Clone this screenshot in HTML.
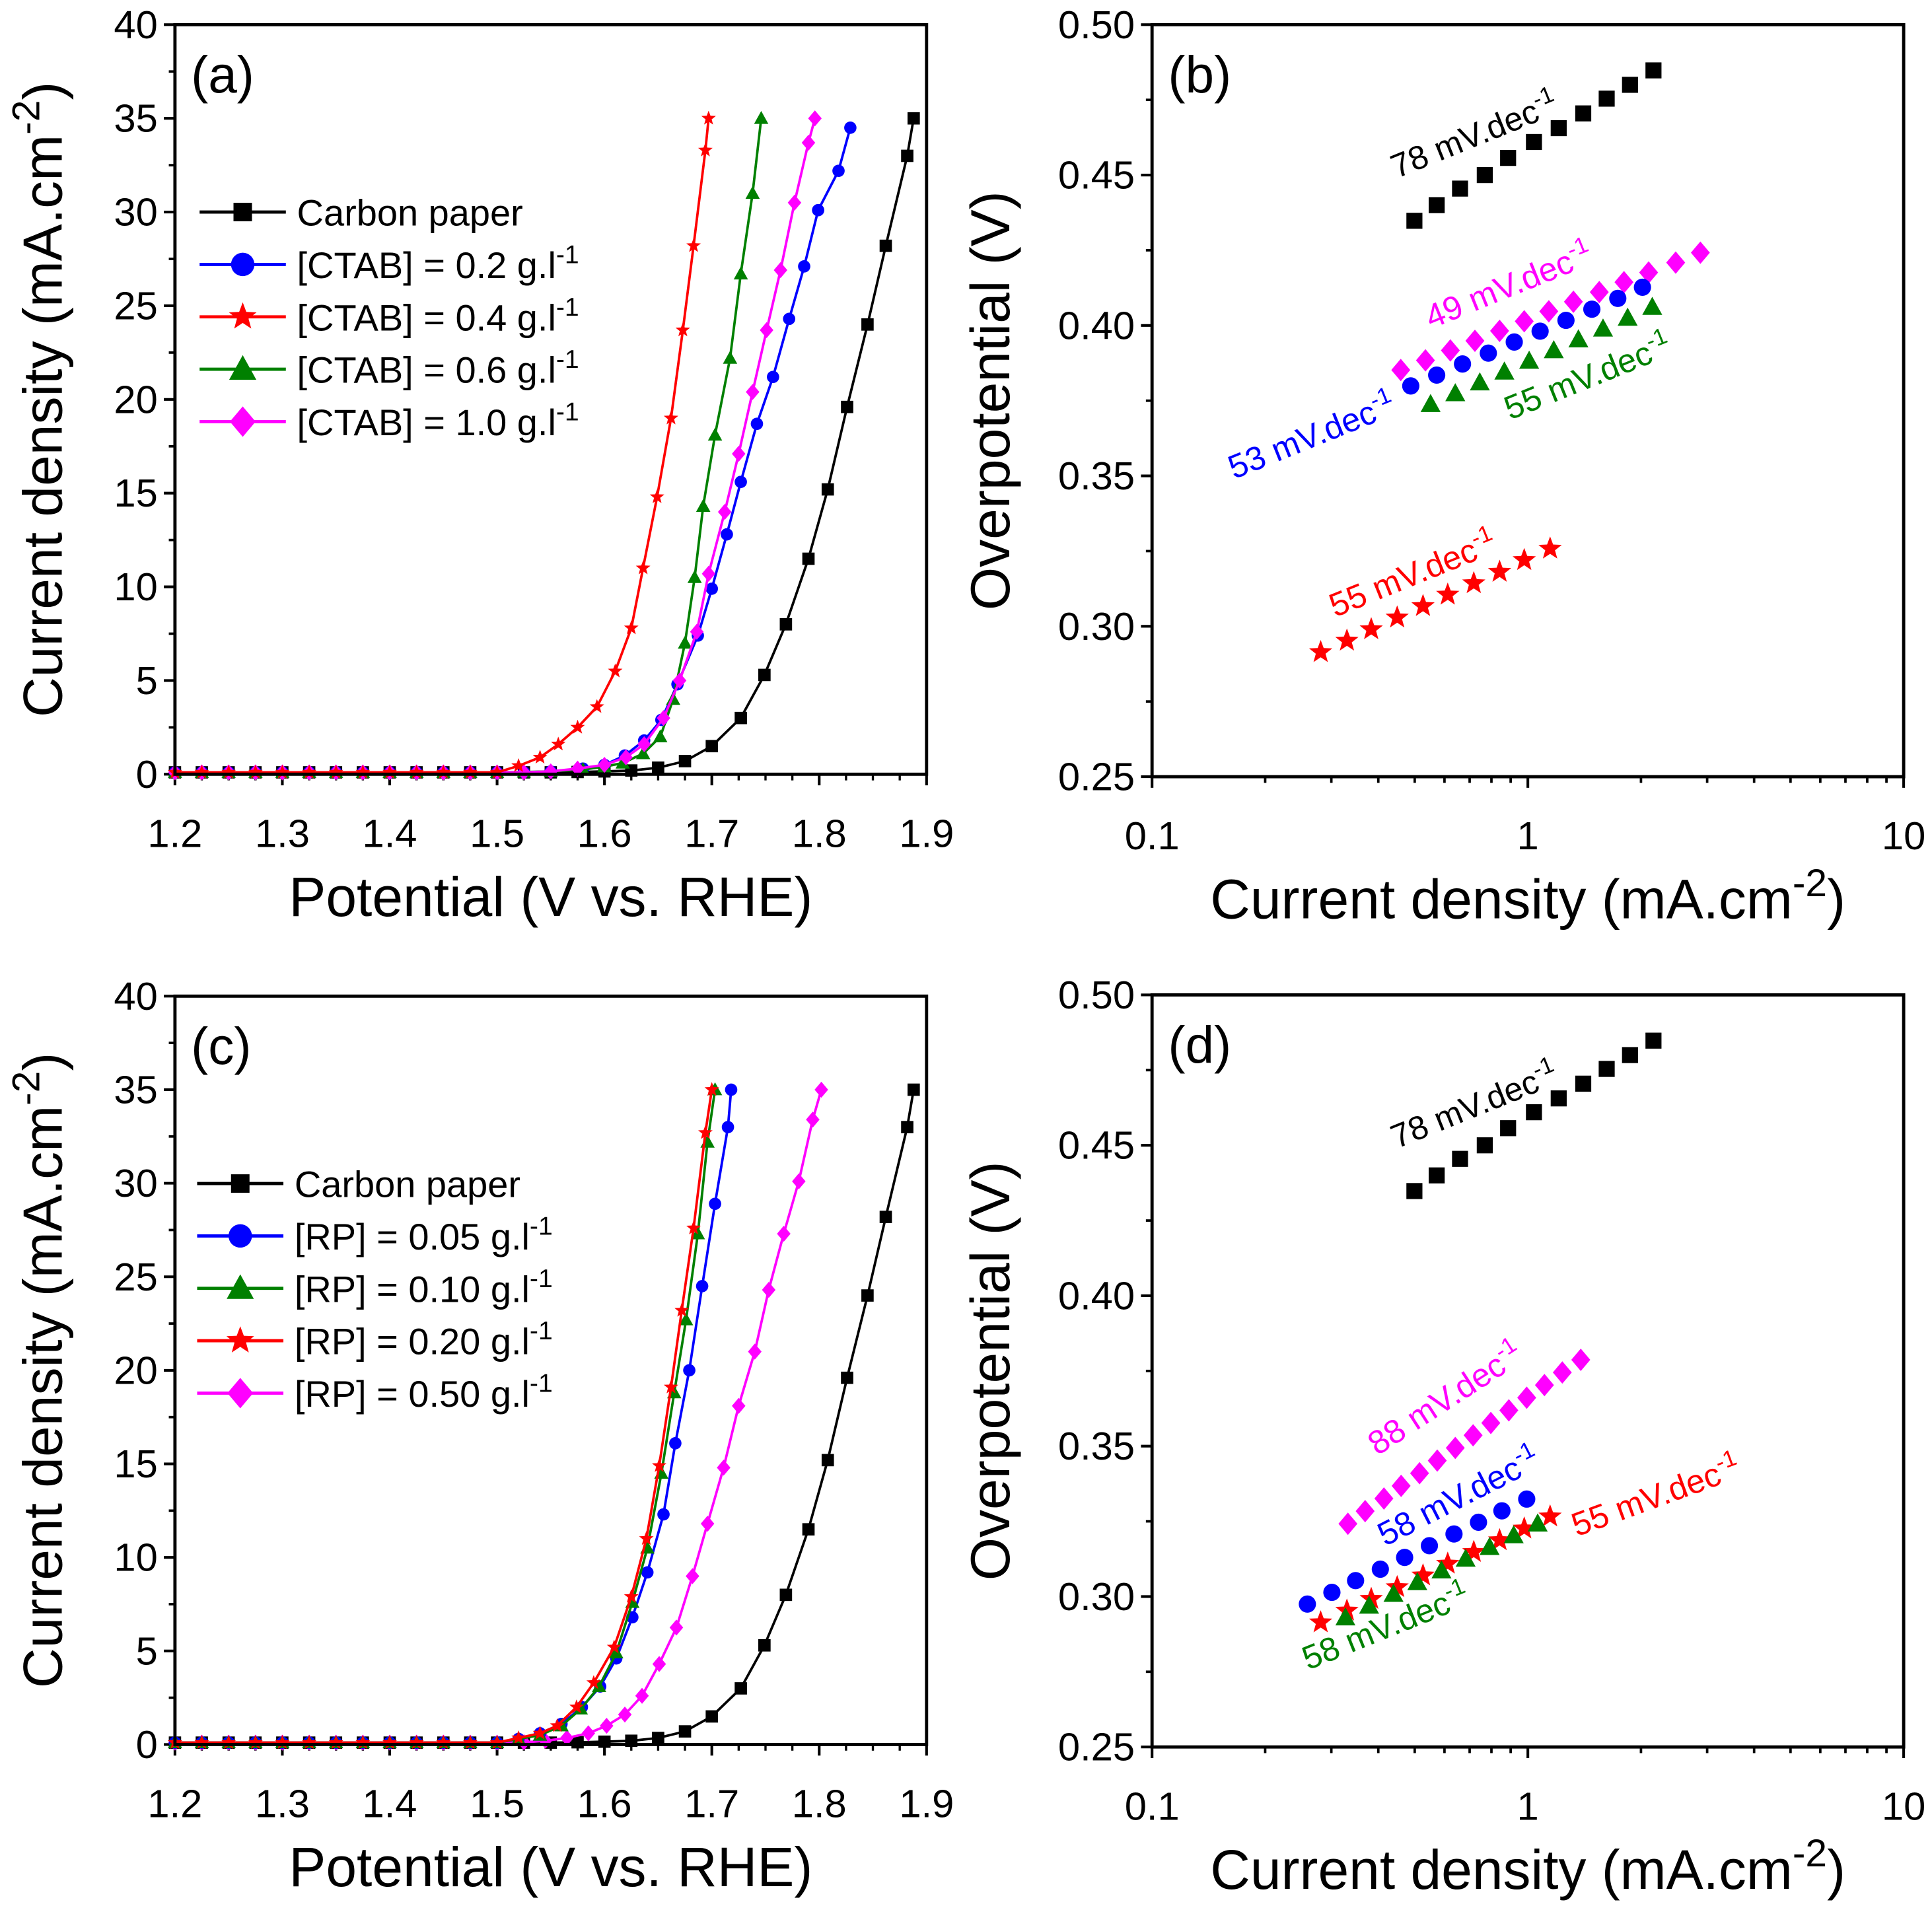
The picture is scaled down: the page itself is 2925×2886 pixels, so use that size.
<!DOCTYPE html>
<html><head><meta charset="utf-8"><style>
html,body{margin:0;padding:0;background:#fff}
svg{display:block;font-family:"Liberation Sans",Arial,sans-serif}
</style></head><body>
<svg id="fig" xmlns="http://www.w3.org/2000/svg" width="2925" height="2886" viewBox="0 0 1568 1546" preserveAspectRatio="none"></svg>
<script>
// ---- Data: panel (a) LSV, CTAB ----
const flatV = [1.20,1.225,1.25,1.275,1.30,1.325,1.35,1.375,1.40,1.425,1.45,1.475,1.50];
const flatJ = [0.1,0.1,0.1,0.1,0.1,0.1,0.1,0.1,0.1,0.1,0.1,0.1,0.1];
const cpV = flatV.concat([1.525,1.55,1.575,1.60,1.625,1.65,1.675,1.70,1.727,1.749,1.769,1.79,1.808,1.826,1.845,1.862,1.882,1.888]);
const cpJ = flatJ.concat([0.1,0.1,0.12,0.15,0.2,0.35,0.7,1.5,3.0,5.3,8,11.5,15.2,19.6,24,28.2,33,35]);
const aRedV = flatV.concat([1.52,1.54,1.557,1.575,1.593,1.61,1.625,1.636,1.649,1.662,1.673,1.683,1.694,1.697]);
const aRedJ = flatJ.concat([0.45,0.9,1.6,2.5,3.6,5.5,7.8,11,14.8,19,23.7,28.2,33.3,35]);
const aGreenV = flatV.concat([1.525,1.55,1.58,1.60,1.617,1.636,1.652,1.664,1.675,1.684,1.692,1.703,1.717,1.727,1.738,1.746]);
const aGreenJ = flatJ.concat([0.12,0.15,0.25,0.4,0.6,1.1,2,4,7,10.5,14.3,18.1,22.2,26.7,31,35]);
const aBlueV = flatV.concat([1.525,1.55,1.58,1.60,1.619,1.637,1.653,1.668,1.687,1.700,1.714,1.727,1.742,1.757,1.772,1.786,1.799,1.818,1.829]);
const aBlueJ = flatJ.concat([0.1,0.15,0.3,0.5,1.0,1.8,2.9,4.8,7.4,9.9,12.8,15.6,18.7,21.2,24.3,27.1,30.1,32.2,34.5]);
const aMagV = flatV.concat([1.525,1.55,1.575,1.60,1.62,1.637,1.655,1.670,1.686,1.697,1.712,1.725,1.738,1.751,1.764,1.777,1.790,1.796]);
const aMagJ = flatJ.concat([0.1,0.15,0.3,0.5,0.9,1.6,3,5,7.6,10.7,14,17.1,20.4,23.7,26.9,30.5,33.7,35]);
// ---- Data: panel (c) LSV, RP ----
const cRedV = flatV.concat([1.52,1.54,1.556,1.574,1.590,1.609,1.625,1.639,1.651,1.662,1.672,1.683,1.694,1.700]);
const cRedJ = flatJ.concat([0.35,0.6,1.0,2,3.3,5.2,7.9,11,14.9,19.1,23.2,27.6,32.7,35]);
const cGreenV = flatV.concat([1.52,1.54,1.56,1.578,1.595,1.611,1.626,1.640,1.653,1.665,1.676,1.687,1.696,1.703]);
const cGreenJ = flatJ.concat([0.3,0.5,1.0,1.9,3.1,4.9,7.6,10.5,14.5,18.8,22.7,27.3,32.2,35]);
const cBlueV = flatV.concat([1.52,1.54,1.56,1.579,1.596,1.611,1.626,1.640,1.655,1.666,1.679,1.691,1.703,1.715,1.718]);
const cBlueJ = flatJ.concat([0.3,0.6,1.1,2,3.1,4.6,6.8,9.2,12.3,16.1,20,24.5,28.9,33,35]);
const cMagV = flatV.concat([1.525,1.545,1.565,1.585,1.602,1.619,1.635,1.651,1.667,1.682,1.696,1.711,1.725,1.740,1.753,1.767,1.781,1.794,1.802]);
const cMagJ = flatJ.concat([0.12,0.2,0.35,0.6,1,1.6,2.6,4.3,6.25,9,11.8,14.8,18.1,21,24.3,27.3,30.1,33.4,35]);
// ---- Data: Tafel panels ----
const tBlackJ = [0.499,0.572,0.660,0.768,0.886,1.038,1.208,1.404,1.621,1.870,2.159];
const tBlackE = [0.4348,0.440,0.4455,0.450,0.4557,0.461,0.4656,0.4705,0.4754,0.480,0.4848];
const bMagJ = [0.459,0.534,0.622,0.723,0.841,0.978,1.137,1.322,1.549,1.802,2.096,2.474,2.878];
const bMagE = [0.3852,0.3884,0.3917,0.3949,0.3982,0.4014,0.4047,0.4079,0.4111,0.4144,0.4176,0.4209,0.4242];
const bBlueJ = [0.488,0.572,0.670,0.785,0.920,1.078,1.263,1.480,1.735,2.018];
const bBlueE = [0.3799,0.3835,0.3872,0.3908,0.3945,0.3981,0.4017,0.4054,0.4090,0.4127];
const bGreenJ = [0.551,0.641,0.745,0.866,1.008,1.172,1.363,1.585,1.843,2.143];
const bGreenE = [0.3738,0.3774,0.3810,0.3846,0.3882,0.3917,0.3953,0.3989,0.4025,0.4061];
const bRedJ = [0.281,0.330,0.383,0.449,0.526,0.612,0.718,0.841,0.978,1.146];
const bRedE = [0.2914,0.2952,0.2990,0.3029,0.3067,0.3105,0.3143,0.3181,0.3220,0.3258];
const dMagJ = [0.332,0.369,0.414,0.460,0.515,0.574,0.641,0.715,0.797,0.890,0.993,1.107,1.235,1.383];
const dMagE = [0.3242,0.3284,0.3326,0.3368,0.3410,0.3452,0.3494,0.3536,0.3577,0.3619,0.3661,0.3703,0.3745,0.3787];
const dBlueJ = [0.259,0.301,0.348,0.405,0.470,0.547,0.636,0.739,0.853,0.993];
const dBlueE = [0.2975,0.3014,0.3053,0.3091,0.3130,0.3169,0.3208,0.3247,0.3285,0.3324];
const dRedJ = [0.281,0.330,0.383,0.449,0.526,0.612,0.718,0.841,0.978,1.146];
const dRedE = [0.2914,0.2953,0.2992,0.3031,0.3070,0.3109,0.3148,0.3187,0.3226,0.3266];
const dGreenJ = [0.327,0.378,0.439,0.508,0.589,0.683,0.791,0.917,1.062];
const dGreenE = [0.2930,0.2969,0.3008,0.3047,0.3086,0.3125,0.3164,0.3203,0.3242];
const lsvXTicks = ["1.2","1.3","1.4","1.5","1.6","1.7","1.8","1.9"];
const lsvYTicks = ["0","5","10","15","20","25","30","35","40"];
const tafYTicks = ["0.25","0.30","0.35","0.40","0.45","0.50"];
const tafXTicks = ["0.1","1","10"];

const NS="http://www.w3.org/2000/svg";
const svg=document.getElementById('fig');
function mk(tag,attrs,parent){const e=document.createElementNS(NS,tag);for(const k in attrs)e.setAttribute(k,attrs[k]);(parent||svg).appendChild(e);return e;}
const C={k:'#000',b:'#0000ff',r:'#ff0000',g:'#008000',m:'#ff00ff'};
const TF=32, TT=45;

function marker(g,type,x,y,s,col){
  let e;
  if(type==='sq') e=mk('rect',{x:x-s/2,y:y-s/2,width:s,height:s,fill:col},g);
  else if(type==='ci') e=mk('circle',{cx:x,cy:y,r:s/2,fill:col},g);
  else if(type==='tr') e=mk('polygon',{points:`${x},${y-s*0.6} ${x-s*0.58},${y+s*0.45} ${x+s*0.58},${y+s*0.45}`,fill:col},g);
  else if(type==='di') e=mk('polygon',{points:`${x},${y-s*0.65} ${x+s*0.55},${y} ${x},${y+s*0.65} ${x-s*0.55},${y}`,fill:col},g);
  else { let p=[];for(let i=0;i<10;i++){const a=-Math.PI/2+i*Math.PI/5;const r=i%2?s*0.26:s*0.62;p.push((x+r*Math.cos(a)).toFixed(2)+','+(y+r*Math.sin(a)).toFixed(2));}
    e=mk('polygon',{points:p.join(' '),fill:col},g);}
  
  
}
function text(str,x,y,size,attrs,parent){const t=mk('text',Object.assign({x:x,y:y,'font-size':size},attrs||{}),parent);t.textContent=str;return t;}
function supText(parent,x,y,size,base,sup,after,attrs){
  const t=mk('text',Object.assign({x:x,y:y,'font-size':size},attrs||{}),parent);
  const a=mk('tspan',{},t);a.textContent=base;
  const s=mk('tspan',{dy:-size*0.4,'font-size':size*0.7},t);s.textContent=sup;
  if(after){const c=mk('tspan',{dy:size*0.4},t);c.textContent=after;}
  return t;
}

function lsvPanel(name,top,bot,label,series,legendRows){
  const x0=142,x1=752;
  const X=v=>x0+(v-1.2)/0.7*(x1-x0);
  const Y=j=>bot-(j/40)*(bot-top);
  const g=mk('g',{});
  
  
  lsvXTicks.forEach((t,i)=>{const v=1.2+i*0.1;mk('line',{x1:X(v),x2:X(v),y1:bot,y2:bot+9,stroke:'#000','stroke-width':2.2},g);
    text(t,X(v),bot+59,TF,{'text-anchor':'middle'},g);
  });
  for(let v=1.2;v<1.9;v+=0.025){mk('line',{x1:X(v),x2:X(v),y1:bot,y2:bot+5,stroke:'#000','stroke-width':1.8},g);}
  lsvYTicks.forEach((t,i)=>{const j=i*5;mk('line',{x1:x0-9,x2:x0,y1:Y(j),y2:Y(j),stroke:'#000','stroke-width':2.2},g);
    text(t,x0-14,Y(j)+11,TF,{'text-anchor':'end'},g);
    if(i<8)mk('line',{x1:x0-5,x2:x0,y1:Y(j+2.5),y2:Y(j+2.5),stroke:'#000','stroke-width':2},g);
  });
  const xt=text('Potential (V vs. RHE)',447,bot+115,TT,{'text-anchor':'middle'},g);
  
  const yt=supText(g,0,0,TT,'Current density (mA.cm','-2',')',{'text-anchor':'middle',transform:`translate(50,${(top+bot)/2}) rotate(-90)`});
  
  series.forEach(s=>{
    const sg=mk('g',{},g);
    
    
    mk('polyline',{points:s.V.map((v,i)=>X(v).toFixed(1)+','+Y(s.J[i]).toFixed(1)).join(' '),fill:'none',stroke:s.col,'stroke-width':2},sg);
    s.V.forEach((v,i)=>marker(sg,s.m,X(v),Y(s.J[i]),10,s.col));
  });
  mk('rect',{x:x0,y:top,width:x1-x0,height:bot-top,fill:'none',stroke:'#000','stroke-width':2.6},g);
  const pl=text(label,155,top+55,42,{},g);
  
  const lg=mk('g',{},g);
  
  
  legendRows.forEach((r,i)=>{
    const y=top+152+i*42.5;
    const eg=mk('g',{},lg);
    
    
    mk('line',{x1:r.lx,x2:r.lx+70,y1:y,y2:y,stroke:r.col,'stroke-width':2.6},eg);
    marker(eg,r.m,r.lx+35,y,r.m==='sq'?15:19,r.col);
    if(r.sup) supText(eg,r.lx+79,y+11,30,r.t,'-1',null); else text(r.t,r.lx+79,y+11,30,{},eg);
  });
}

function tafPanel(name,top,bot,label,series,notes){
  const x0=935,x1=1545;
  const X=j=>x0+(Math.log10(j)+1)/2*(x1-x0);
  const Y=e=>bot-(e-0.25)/0.25*(bot-top);
  const g=mk('g',{});
  
  
  tafXTicks.forEach((t,i)=>{const j=Math.pow(10,i-1);mk('line',{x1:X(j),x2:X(j),y1:bot,y2:bot+9,stroke:'#000','stroke-width':2.2},g);
    text(t,X(j),bot+59,TF,{'text-anchor':'middle'},g);
    if(i<2)for(let k=2;k<10;k++)mk('line',{x1:X(j*k),x2:X(j*k),y1:bot,y2:bot+5,stroke:'#000','stroke-width':2},g);
  });
  tafYTicks.forEach((t,i)=>{const e=0.25+i*0.05;mk('line',{x1:x0-9,x2:x0,y1:Y(e),y2:Y(e),stroke:'#000','stroke-width':2.2},g);
    text(t,x0-14,Y(e)+11,TF,{'text-anchor':'end'},g);
    if(i<5)mk('line',{x1:x0-5,x2:x0,y1:Y(e+0.025),y2:Y(e+0.025),stroke:'#000','stroke-width':2},g);
  });
  const xt=supText(g,1240,bot+115,TT,'Current density (mA.cm','-2',')',{'text-anchor':'middle'});
  
  const yt=text('Overpotential (V)',0,0,TT,{'text-anchor':'middle',transform:`translate(819,${(top+bot)/2}) rotate(-90)`},g);
  
  series.forEach(s=>{
    const sg=mk('g',{},g);
    
    
    s.J.forEach((j,i)=>marker(sg,s.m,X(j),Y(s.E[i]),s.m==='sq'?13:(s.m==='st'?16:14),s.col));
  });
  notes.forEach(n=>{
    const t=supText(g,0,0,27,n.t,'-1',null,{fill:n.col,'text-anchor':'middle',transform:`translate(${n.x},${n.y}) rotate(${n.r})`});
    
  });
  mk('rect',{x:x0,y:top,width:x1-x0,height:bot-top,fill:'none',stroke:'#000','stroke-width':2.6},g);
  const pl=text(label,948,top+55,42,{},g);
  
}

lsvPanel('panel-a-lsv-ctab',20,628,'(a)',[
 {name:'series-carbon-paper',V:cpV,J:cpJ,col:C.k,m:'sq'},
 {name:'series-ctab-0.2',V:aBlueV,J:aBlueJ,col:C.b,m:'ci'},
 {name:'series-ctab-0.6',V:aGreenV,J:aGreenJ,col:C.g,m:'tr'},
 {name:'series-ctab-1.0',V:aMagV,J:aMagJ,col:C.m,m:'di'},
 {name:'series-ctab-0.4',V:aRedV,J:aRedJ,col:C.r,m:'st'}
],[
 {lx:162,t:'Carbon paper',col:C.k,m:'sq'},
 {lx:162,t:'[CTAB] = 0.2 g.l',sup:1,col:C.b,m:'ci'},
 {lx:162,t:'[CTAB] = 0.4 g.l',sup:1,col:C.r,m:'st'},
 {lx:162,t:'[CTAB] = 0.6 g.l',sup:1,col:C.g,m:'tr'},
 {lx:162,t:'[CTAB] = 1.0 g.l',sup:1,col:C.m,m:'di'}
]);
lsvPanel('panel-c-lsv-rp',808,1415,'(c)',[
 {name:'series-carbon-paper',V:cpV,J:cpJ,col:C.k,m:'sq'},
 {name:'series-rp-0.50',V:cMagV,J:cMagJ,col:C.m,m:'di'},
 {name:'series-rp-0.05',V:cBlueV,J:cBlueJ,col:C.b,m:'ci'},
 {name:'series-rp-0.10',V:cGreenV,J:cGreenJ,col:C.g,m:'tr'},
 {name:'series-rp-0.20',V:cRedV,J:cRedJ,col:C.r,m:'st'}
],[
 {lx:160,t:'Carbon paper',col:C.k,m:'sq'},
 {lx:160,t:'[RP] = 0.05 g.l',sup:1,col:C.b,m:'ci'},
 {lx:160,t:'[RP] = 0.10 g.l',sup:1,col:C.g,m:'tr'},
 {lx:160,t:'[RP] = 0.20 g.l',sup:1,col:C.r,m:'st'},
 {lx:160,t:'[RP] = 0.50 g.l',sup:1,col:C.m,m:'di'}
]);
tafPanel('panel-b-tafel-ctab',20,630,'(b)',[
 {name:'tafel-carbon-paper',J:tBlackJ,E:tBlackE,col:C.k,m:'sq'},
 {name:'tafel-ctab-1.0',J:bMagJ,E:bMagE,col:C.m,m:'di'},
 {name:'tafel-ctab-0.2',J:bBlueJ,E:bBlueE,col:C.b,m:'ci'},
 {name:'tafel-ctab-0.6',J:bGreenJ,E:bGreenE,col:C.g,m:'tr'},
 {name:'tafel-ctab-0.4',J:bRedJ,E:bRedE,col:C.r,m:'st'}
],[
 {t:'78 mV.dec',x:1200,y:118,r:-22,col:C.k},
 {t:'49 mV.dec',x:1228,y:240,r:-22,col:C.m},
 {t:'53 mV.dec',x:1068,y:362,r:-22,col:C.b},
 {t:'55 mV.dec',x:1292,y:314,r:-22,col:C.g},
 {t:'55 mV.dec',x:1150,y:474,r:-22,col:C.r}
]);
tafPanel('panel-d-tafel-rp',807,1417,'(d)',[
 {name:'tafel-carbon-paper',J:tBlackJ,E:tBlackE,col:C.k,m:'sq'},
 {name:'tafel-rp-0.50',J:dMagJ,E:dMagE,col:C.m,m:'di'},
 {name:'tafel-rp-0.05',J:dBlueJ,E:dBlueE,col:C.b,m:'ci'},
 {name:'tafel-rp-0.20',J:dRedJ,E:dRedE,col:C.r,m:'st'},
 {name:'tafel-rp-0.10',J:dGreenJ,E:dGreenE,col:C.g,m:'tr'}
],[
 {t:'78 mV.dec',x:1200,y:905,r:-22,col:C.k},
 {t:'88 mV.dec',x:1178,y:1142,r:-33,col:C.m},
 {t:'58 mV.dec',x:1188,y:1222,r:-27,col:C.b},
 {t:'55 mV.dec',x:1347,y:1222,r:-20,col:C.r},
 {t:'58 mV.dec',x:1128,y:1328,r:-22,col:C.g}
]);
</script>
</body></html>
